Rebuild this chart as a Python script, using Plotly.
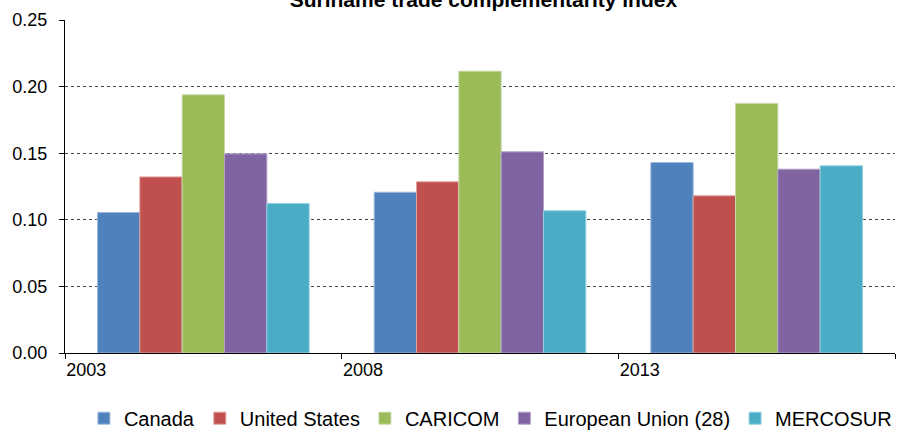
import plotly.graph_objects as go

years = ["2003", "2008", "2013"]
series_names = ["Canada", "United States", "CARICOM", "European Union (28)", "MERCOSUR"]
canada = [0.1055, 0.1207, 0.1430]
united_states = [0.1322, 0.1285, 0.1180]
caricom = [0.1938, 0.2116, 0.1874]
european_union = [0.1495, 0.1510, 0.1380]
mercosur = [0.1123, 0.1068, 0.1405]
y_tick_values = [0.0, 0.05, 0.10, 0.15, 0.20, 0.25]

colors = ["#4F81BD", "#C0504D", "#9BBB59", "#8064A2", "#4BACC6"]
edge = ["#9DB9DC", "#DDA09E", "#C6D9A6", "#B4A2C9", "#93D0E0"]
all_values = [canada, united_states, caricom, european_union, mercosur]

fig = go.Figure()
for name, vals, c, e in zip(series_names, all_values, colors, edge):
    fig.add_trace(go.Bar(x=years, y=vals, name=name, marker=dict(color=c, line=dict(color=e, width=1))))

font = "Liberation Sans, Arial, sans-serif"
fig.update_layout(
    width=912, height=432,
    margin=dict(l=65, r=17, t=20, b=79, autoexpand=False),
    paper_bgcolor="white", plot_bgcolor="white",
    barmode="group", bargap=0.235, bargroupgap=0,
    font=dict(family=font, size=18, color="black"),
    title=dict(text="<b>Suriname trade complementarity index</b>", x=0.53, xanchor="center",
               y=1.0, yanchor="middle", yref="container", font=dict(size=21, family=font)),
    legend=dict(orientation="h", xref="container", x=0.092, xanchor="left",
                yref="container", y=0.032, yanchor="middle",
                font=dict(size=20), itemwidth=30, traceorder="normal"),
    xaxis=dict(type="category", showline=True, linecolor="black", linewidth=1,
               ticks="outside", ticklen=5, tickcolor="black", tickson="boundaries",
               ticklabelshift=-117, showgrid=False, tickfont=dict(size=18), automargin=False),
    yaxis=dict(range=[0, 0.25], tickvals=y_tick_values, tickformat=".2f",
               showline=True, linecolor="black", linewidth=1, ticks="outside", ticklen=5,
               tickcolor="black", showgrid=True, gridcolor="#444444", griddash="dot",
               gridwidth=1, zeroline=False, tickfont=dict(size=18), automargin=False,
               ticklabelstandoff=8),
)
fig.write_html("out.html", config={"displayModeBar": False},
               post_script="document.body.style.margin='0';document.body.style.overflow='hidden';")
